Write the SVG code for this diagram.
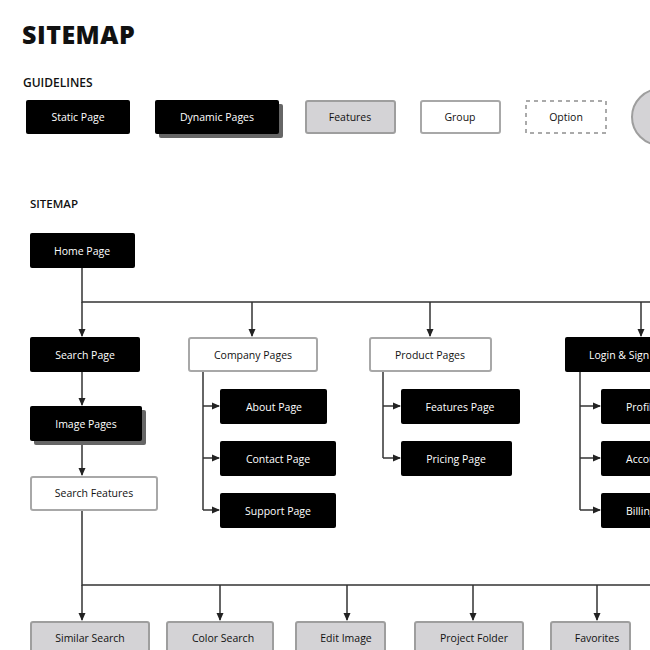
<svg xmlns="http://www.w3.org/2000/svg" width="650" height="650" viewBox="0 0 650 650">
<defs>
<marker id="ah" markerWidth="8" markerHeight="8" refX="7" refY="4" orient="auto" markerUnits="userSpaceOnUse"><path d="M0,0.5 L8,4 L0,7.5 Z" fill="#222"/></marker>
</defs>
<style>
text{font-family:"Open Sans","Liberation Sans",sans-serif;font-size:10.5px;text-anchor:middle;dominant-baseline:central}
.blk rect.b{fill:#000;stroke:none}
.blk text{fill:#fff}
.shd{fill:#666}
.gry rect{fill:#d4d3d6;stroke:#9e9e9e;stroke-width:2}
.wht rect{fill:#fff;stroke:#a8a8a8;stroke-width:2}
.gry text,.wht text,.dsh text{fill:#111}
.c{stroke:#333;stroke-width:1.5;fill:none}
.a{marker-end:url(#ah)}
.h{font-family:"Open Sans","Liberation Sans",sans-serif;text-anchor:start;fill:#111}
</style>
<rect width="650" height="650" fill="#fff"/>
<text class="h" x="22" y="34" style="font-size:25px;font-weight:800;letter-spacing:0.5px">SITEMAP</text>
<text class="h" x="23" y="82" style="font-size:12px;font-weight:600">GUIDELINES</text>
<text class="h" x="30" y="203" style="font-size:11.5px;font-weight:600">SITEMAP</text>

<g id="legend-static" class="blk"><rect class="b" x="26" y="100" width="104" height="34" rx="2"/><text x="78" y="117">Static Page</text></g>
<g id="legend-dynamic" class="blk"><rect class="shd" x="159" y="104" width="124" height="34" rx="2"/><rect class="b" x="155" y="100" width="124" height="34" rx="2"/><text x="217" y="117">Dynamic Pages</text></g>
<g id="legend-features" class="gry"><rect x="306" y="101" width="89" height="32" rx="2"/><text x="350" y="117">Features</text></g>
<g id="legend-group" class="wht"><rect x="421" y="101" width="79" height="32" rx="2"/><text x="460" y="117">Group</text></g>
<g id="legend-option" class="dsh"><rect x="526" y="101" width="80" height="32" fill="#fff" stroke="#aaa" stroke-width="2" stroke-dasharray="4,4"/><text x="566" y="117">Option</text></g>
<g id="legend-circle"><circle cx="660" cy="117" r="28" fill="#d4d3d6" stroke="#9e9e9e" stroke-width="2"/></g>

<g id="connectors">
<path class="c" d="M82,268 V302 H650"/>
<path class="c a" d="M82,302 V336"/>
<path class="c a" d="M252,302 V336"/>
<path class="c a" d="M430,302 V336"/>
<path class="c a" d="M641,302 V336"/>
<path class="c a" d="M82,372 V405"/>
<path class="c a" d="M82,441 V475"/>
<path class="c" d="M203,372 V510"/>
<path class="c a" d="M203,406 H219"/>
<path class="c a" d="M203,458 H219"/>
<path class="c a" d="M203,510 H219"/>
<path class="c" d="M383,372 V458"/>
<path class="c a" d="M383,406 H400"/>
<path class="c a" d="M383,458 H400"/>
<path class="c" d="M580,372 V510"/>
<path class="c a" d="M580,406 H600"/>
<path class="c a" d="M580,458 H600"/>
<path class="c a" d="M580,510 H600"/>
<path class="c" d="M82,511 V585 H650"/>
<path class="c a" d="M82,585 V620"/>
<path class="c a" d="M220,585 V620"/>
<path class="c a" d="M347,585 V620"/>
<path class="c a" d="M473,585 V620"/>
<path class="c a" d="M597,585 V620"/>
</g>

<g id="home" class="blk"><rect class="b" x="30" y="233" width="105" height="35" rx="2"/><text x="82" y="251">Home Page</text></g>
<g id="search" class="blk"><rect class="b" x="30" y="337" width="110" height="35" rx="2"/><text x="85" y="355">Search Page</text></g>
<g id="image" class="blk"><rect class="shd" x="34" y="410" width="112" height="35" rx="2"/><rect class="b" x="30" y="406" width="112" height="35" rx="2"/><text x="86" y="424">Image Pages</text></g>
<g id="searchfeat" class="wht"><rect x="31" y="477" width="126" height="33" rx="2"/><text x="94" y="493">Search Features</text></g>
<g id="company" class="wht"><rect x="189" y="338" width="128" height="33" rx="2"/><text x="253" y="355">Company Pages</text></g>
<g id="about" class="blk"><rect class="b" x="220" y="389" width="107" height="35" rx="2"/><text x="274" y="407">About Page</text></g>
<g id="contact" class="blk"><rect class="b" x="220" y="441" width="116" height="35" rx="2"/><text x="278" y="459">Contact Page</text></g>
<g id="support" class="blk"><rect class="b" x="220" y="493" width="116" height="35" rx="2"/><text x="278" y="511">Support Page</text></g>
<g id="product" class="wht"><rect x="370" y="338" width="121" height="33" rx="2"/><text x="430" y="355">Product Pages</text></g>
<g id="featpage" class="blk"><rect class="b" x="401" y="389" width="119" height="35" rx="2"/><text x="460" y="407">Features Page</text></g>
<g id="pricing" class="blk"><rect class="b" x="401" y="441" width="111" height="35" rx="2"/><text x="456" y="459">Pricing Page</text></g>
<g id="login" class="blk"><rect class="b" x="565" y="337" width="120" height="35" rx="2"/><text x="589" y="355" style="text-anchor:start">Login &amp; Sign Up</text></g>
<g id="profile" class="blk"><rect class="b" x="601" y="389" width="100" height="35" rx="2"/><text x="626" y="407" style="text-anchor:start">Profile</text></g>
<g id="account" class="blk"><rect class="b" x="601" y="441" width="100" height="35" rx="2"/><text x="626" y="459" style="text-anchor:start">Account</text></g>
<g id="billing" class="blk"><rect class="b" x="601" y="493" width="100" height="35" rx="2"/><text x="626" y="511" style="text-anchor:start">Billing</text></g>
<g id="similar" class="gry"><rect x="31" y="622" width="118" height="40" rx="2"/><text x="90" y="638">Similar Search</text></g>
<g id="color" class="gry"><rect x="167" y="622" width="106" height="40" rx="2"/><text x="223" y="638">Color Search</text></g>
<g id="edit" class="gry"><rect x="296" y="622" width="89" height="40" rx="2"/><text x="346" y="638">Edit Image</text></g>
<g id="project" class="gry"><rect x="415" y="622" width="108" height="40" rx="2"/><text x="474" y="638">Project Folder</text></g>
<g id="favorites" class="gry"><rect x="551" y="622" width="79" height="40" rx="2"/><text x="597" y="638">Favorites</text></g>
</svg>
